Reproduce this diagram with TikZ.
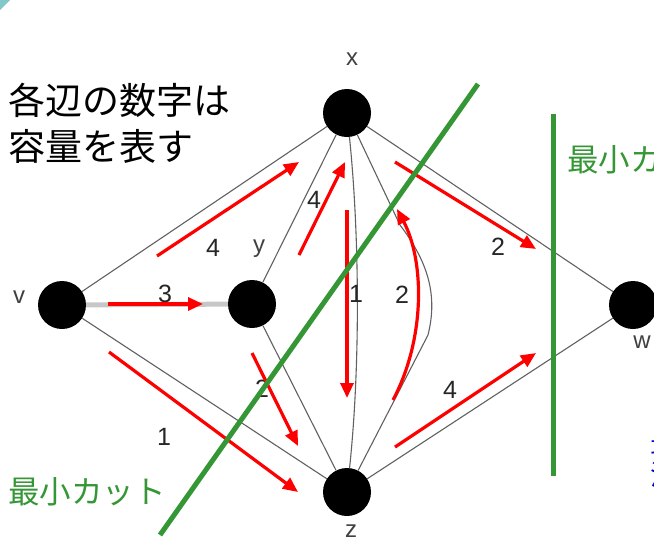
\documentclass[tikz,border=0pt]{standalone}
\usepackage{fontspec}
\setmainfont{Liberation Sans}
\newfontfamily\jp{Noto Sans CJK JP}
\usetikzlibrary{arrows.meta}
\definecolor{cutgreen}{RGB}{52,150,52}
\definecolor{corner}{RGB}{130,200,200}
\tikzset{
  vert/.style={circle,fill=black,minimum size=48pt,inner sep=0pt},
  edge/.style={draw=black!62,line width=1.1pt},
  flow/.style={draw=red,line width=3.2pt,-{Triangle[length=15pt,width=13pt]}},
  cutline/.style={draw=cutgreen,line width=5pt},
  lab/.style={font=\fontsize{25}{28}\selectfont,inner sep=0pt,text=black!85},
  vname/.style={font=\fontsize{24}{28}\selectfont,inner sep=0pt,text=black!75},
}
\begin{document}
\begin{tikzpicture}[x=1pt,y=-1pt]
\useasboundingbox (0,0) rectangle (654,542);
\clip (0,0) rectangle (654,542);
\fill[white] (0,0) rectangle (654,542);
\fill[corner] (0,0) -- (10,0) -- (0,10) -- cycle;

% vertices
\node[vert] (v) at (62,305) {};
\node[vert] (y) at (252,304) {};
\node[vert] (x) at (347,113) {};
\node[vert] (z) at (347,492) {};
\node[vert] (w) at (633,305) {};

% vertex names
\node[vname] (lx) at (352,59) {x};
\node[vname] (ly) at (259,249) {y};
\node[vname] (lv) at (19,297) {v};
\node[vname] (lz) at (351,531) {z};
\node[vname] (lw) at (642,342) {w};

% edges
\draw[draw=black!22,line width=5pt] (v) -- (y);
\draw[edge] (v) -- (x);
\draw[edge] (v) -- (z);
\draw[edge] (y) -- (x);
\draw[edge] (y) -- (z);
\draw[edge] (x) .. controls (360,240) and (360,370) .. (z);
\draw[edge] (x) -- (400,225) .. controls (428,262) and (438,295) .. (428,335) -- (z);
\draw[edge] (x) -- (w);
\draw[edge] (z) -- (w);

% capacities
\node[lab] (c1) at (213,248) {4};
\node[lab] (c2) at (314,200) {4};
\node[lab] (c3) at (165,294) {3};
\node[lab] (c4) at (262,389) {2};
\node[lab] (c5) at (164,437) {1};
\node[lab] (c6) at (356,294) {1};
\node[lab] (c7) at (402,295) {2};
\node[lab] (c8) at (450,390) {4};
\node[lab] (c9) at (498,247) {2};

% flow arrows
\coordinate (a1s) at (157,256); \coordinate (a1e) at (299,162);
\coordinate (a2s) at (108,304); \coordinate (a2e) at (203,304);
\coordinate (a3s) at (109,352); \coordinate (a3e) at (298,492);
\coordinate (a4s) at (252,353); \coordinate (a4e) at (298,446);
\coordinate (a5s) at (299,255); \coordinate (a5e) at (345,162);
\coordinate (a6s) at (347,210); \coordinate (a6e) at (347,398);
\coordinate (a7s) at (393,400); \coordinate (a7e) at (397,209);
\coordinate (a8s) at (395,162); \coordinate (a8e) at (536,249);
\coordinate (a9s) at (395,447); \coordinate (a9e) at (536,353);
\draw[flow] (a1s) -- (a1e);
\draw[flow] (a2s) -- (a2e);
\draw[flow] (a3s) -- (a3e);
\draw[flow] (a4s) -- (a4e);
\draw[flow] (a5s) -- (a5e);
\draw[flow] (a6s) -- (a6e);
\draw[flow] (a7s) .. controls (425,340) and (425,262) .. (a7e);
\draw[flow] (a8s) -- (a8e);
\draw[flow] (a9s) -- (a9e);

% cuts
\coordinate (g1a) at (478,84); \coordinate (g1b) at (160,535);
\coordinate (g2a) at (553,114); \coordinate (g2b) at (553,476);
\draw[cutline] (g1a) -- (g1b);
\draw[cutline] (g2a) -- (g2b);

% texts
\node[anchor=west,inner sep=0pt,font=\jp\fontsize{37}{45}\selectfont] (t1) at (8,100) {各辺の数字は};
\node[anchor=west,inner sep=0pt,font=\jp\fontsize{37}{45}\selectfont] (t2) at (8,146) {容量を表す};
\node[anchor=west,inner sep=0pt,text=cutgreen,font=\jp\fontsize{31.5}{36}\selectfont] (t3) at (8,492) {最小カット};
\node[anchor=west,inner sep=0pt,text=cutgreen,font=\jp\fontsize{31.5}{36}\selectfont] (t4) at (567,160) {最小カット};
\node[anchor=north west,inner sep=0pt,align=left,text=blue!80!black,font=\jp\fontsize{28}{32}\selectfont] (t5) at (650,430) {最大\\流量};
\end{tikzpicture}
\end{document}
